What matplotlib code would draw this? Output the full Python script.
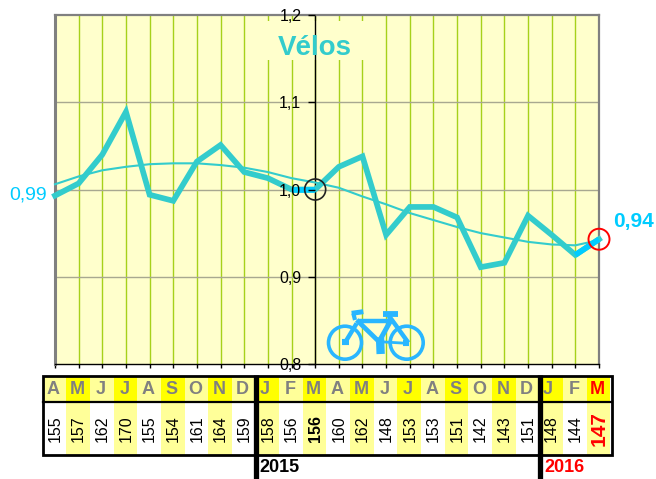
import matplotlib
matplotlib.use("Agg")
import matplotlib.pyplot as plt
from matplotlib.patches import Rectangle, Ellipse

plt.rcParams['font.family'] = ['Liberation Sans', 'DejaVu Sans']

months = list("AMJJASONDJFMAMJJASONDJFM")
counts = [155,157,162,170,155,154,161,164,159,158,156,156,160,162,148,153,153,151,142,143,151,148,144,147]
ratio = [0.993,1.007,1.040,1.089,0.994,0.987,1.032,1.051,1.020,1.013,1.000,1.000,
         1.026,1.038,0.948,0.980,0.980,0.968,0.911,0.916,0.970,0.948,0.925,0.943]
trend = [1.006,1.015,1.022,1.026,1.029,1.030,1.030,1.028,1.025,1.020,1.013,1.008,
         1.002,0.992,0.983,0.973,0.965,0.957,0.950,0.945,0.940,0.937,0.936,0.942]
y_ticks = [0.8,0.9,1.0,1.1,1.2]
y_labels = ['0,8','0,9','1,0','1,1','1,2']
title = "Vélos"
first_label = "0,99"
last_label = "0,94"
years = ["2015","2016"]

W, H = 656, 479
TEAL, BRIGHT, BIKE = '#33CCCC', '#00CCFF', '#29B6FF'
fig = plt.figure(figsize=(W/100, H/100), dpi=100, facecolor='white')
L, R, T, B = 55, 599, 15, 364
ax = fig.add_axes([L/W, 1-B/H, (R-L)/W, (B-T)/H], facecolor='#FFFFCC')
x = list(range(len(ratio)))
ax.set_xlim(0, 23)
ax.set_ylim(0.8, 1.2)

for i in x:
    ax.axvline(i, color='#A6D11A', lw=1, zorder=1)
for v in y_ticks[1:-1]:
    ax.axhline(v, color='#A8A890', lw=1, zorder=1.2)
for sp in ['top', 'right']:
    ax.spines[sp].set_color('#808080')
    ax.spines[sp].set_linewidth(1.6)
ax.spines['left'].set_position(('data', 11))
ax.spines['left'].set_color('black')
ax.spines['left'].set_linewidth(1)
ax.spines['bottom'].set_color('black')
ax.spines['bottom'].set_linewidth(1)
ax.axvline(0, color='#808080', lw=2.2, zorder=2, clip_on=False)
ax.set_yticks(y_ticks, y_labels, fontsize=11.5)
ax.tick_params(axis='y', length=5, width=1, pad=5, color='black')
ax.set_xticks(x, [])
ax.tick_params(axis='x', length=3, width=1, color='black')
ax.yaxis.set_zorder(6)

ax.add_patch(Rectangle((8.9, 1.148), 4.15, 0.045,
                       fc='#FFFFCC', ec='none', zorder=2.4))
ax.plot(x, trend, color=TEAL, lw=1.5, zorder=3, clip_on=False)
ax.plot(x, ratio, color=TEAL, lw=4.1, zorder=4, clip_on=False, solid_joinstyle='miter')
ax.plot(x[10:12], ratio[10:12], color=BRIGHT, lw=4.1, zorder=4.1, solid_capstyle='butt')
ax.plot(x[22:24], ratio[22:24], color=BRIGHT, lw=4.1, zorder=4.1, clip_on=False, solid_capstyle='butt')
ax.text(11, 1.154, title, color=TEAL, fontsize=20, fontweight='bold', ha='center', va='baseline', zorder=5)

# Overlay in pixel coordinates
ov = fig.add_axes([0, 0, 1, 1], facecolor='none')
ov.set_xlim(0, W); ov.set_ylim(H, 0); ov.axis('off')

def px(i):
    return L + (R-L)*i/23
def py(v):
    return B - (B-T)*(v-0.8)/0.4

ov.add_patch(Ellipse((px(11), py(ratio[11])), 21, 21, fc='none', ec='#222222', lw=1.2))
ov.add_patch(Ellipse((px(23), py(ratio[23])), 21, 21, fc='none', ec='red', lw=1.4))
ov.text(47, 195, first_label, color=BRIGHT, fontsize=14, ha='right', va='center')
ov.text(613.5, 221, last_label, color=BRIGHT, fontsize=15, fontweight='bold', ha='left', va='center')

# Table
t0, tm, tb = 376, 402, 455
cw = 23.65
for i, (m, c) in enumerate(zip(months, counts)):
    cx = 54.5 + cw*i
    odd = i % 2 == 1
    ov.add_patch(Rectangle((cx-cw/2, t0), cw, tm-t0, fc='#FFFF00' if odd else '#FFFF99', ec='none', zorder=1))
    if odd:
        ov.add_patch(Rectangle((cx-cw/2, tm), cw, tb-tm, fc='#FFFF99', ec='none', zorder=1))
    tx = cx - (3 if i in (9, 21) else 1)
    last = i == len(months)-1
    ov.text(tx, 389.5, m, color='red' if last else '#808080', fontsize=13, fontweight='bold',
            ha='center', va='center', zorder=3)
    ov.text(cx + 0.5, 428.5, str(c), color='red' if last else 'black', rotation=90,
            fontsize=15 if last else 11.5,
            fontweight='bold' if (last or i == 11) else 'normal',
            ha='center', va='center', zorder=3)
ov.add_patch(Rectangle((43, t0), 569, tb-t0, fc='none', ec='black', lw=2, zorder=4))
ov.plot([43, 612], [tm, tm], color='black', lw=1.6, zorder=4)
for xp in (256, 540):
    ov.plot([xp, xp], [t0-1, 479], color='black', lw=3.8, zorder=4, solid_capstyle='butt')
ov.text(259, 468, years[0], color='black', fontsize=13, fontweight='bold', ha='left', va='center')
ov.text(544, 468, years[1], color='red', fontsize=13, fontweight='bold', ha='left', va='center')

# Bicycle icon
for cx in (345, 406.7):
    ov.add_patch(Ellipse((cx, 342.7), 33, 33, fc='none', ec=BIKE, lw=2.6, zorder=5))
segments = [((175,62),(270,62),3.2), ((135,128),(170,70),3.2), ((170,60),(237,125),3.4),
            ((272,62),(237,125),3.6), ((265,45),(325,128),3.2), ((237,125),(322,130),2),
            ((155,40),(190,35),3.6), ((250,42),(295,42),4.2), ((165,60),(160,40),3),
            ((270,65),(268,42),3), ((240,112),(242,162),6), ((126,127),(146,127),4.4),
            ((308,128),(328,128),4.4)]
for a, b, w in segments:
    ov.plot([300+a[0]/3, 300+b[0]/3], [300+a[1]/3, 300+b[1]/3], color=BIKE, lw=w, zorder=5,
            solid_capstyle='butt')

fig.savefig('out.png', dpi=100, facecolor='white')
